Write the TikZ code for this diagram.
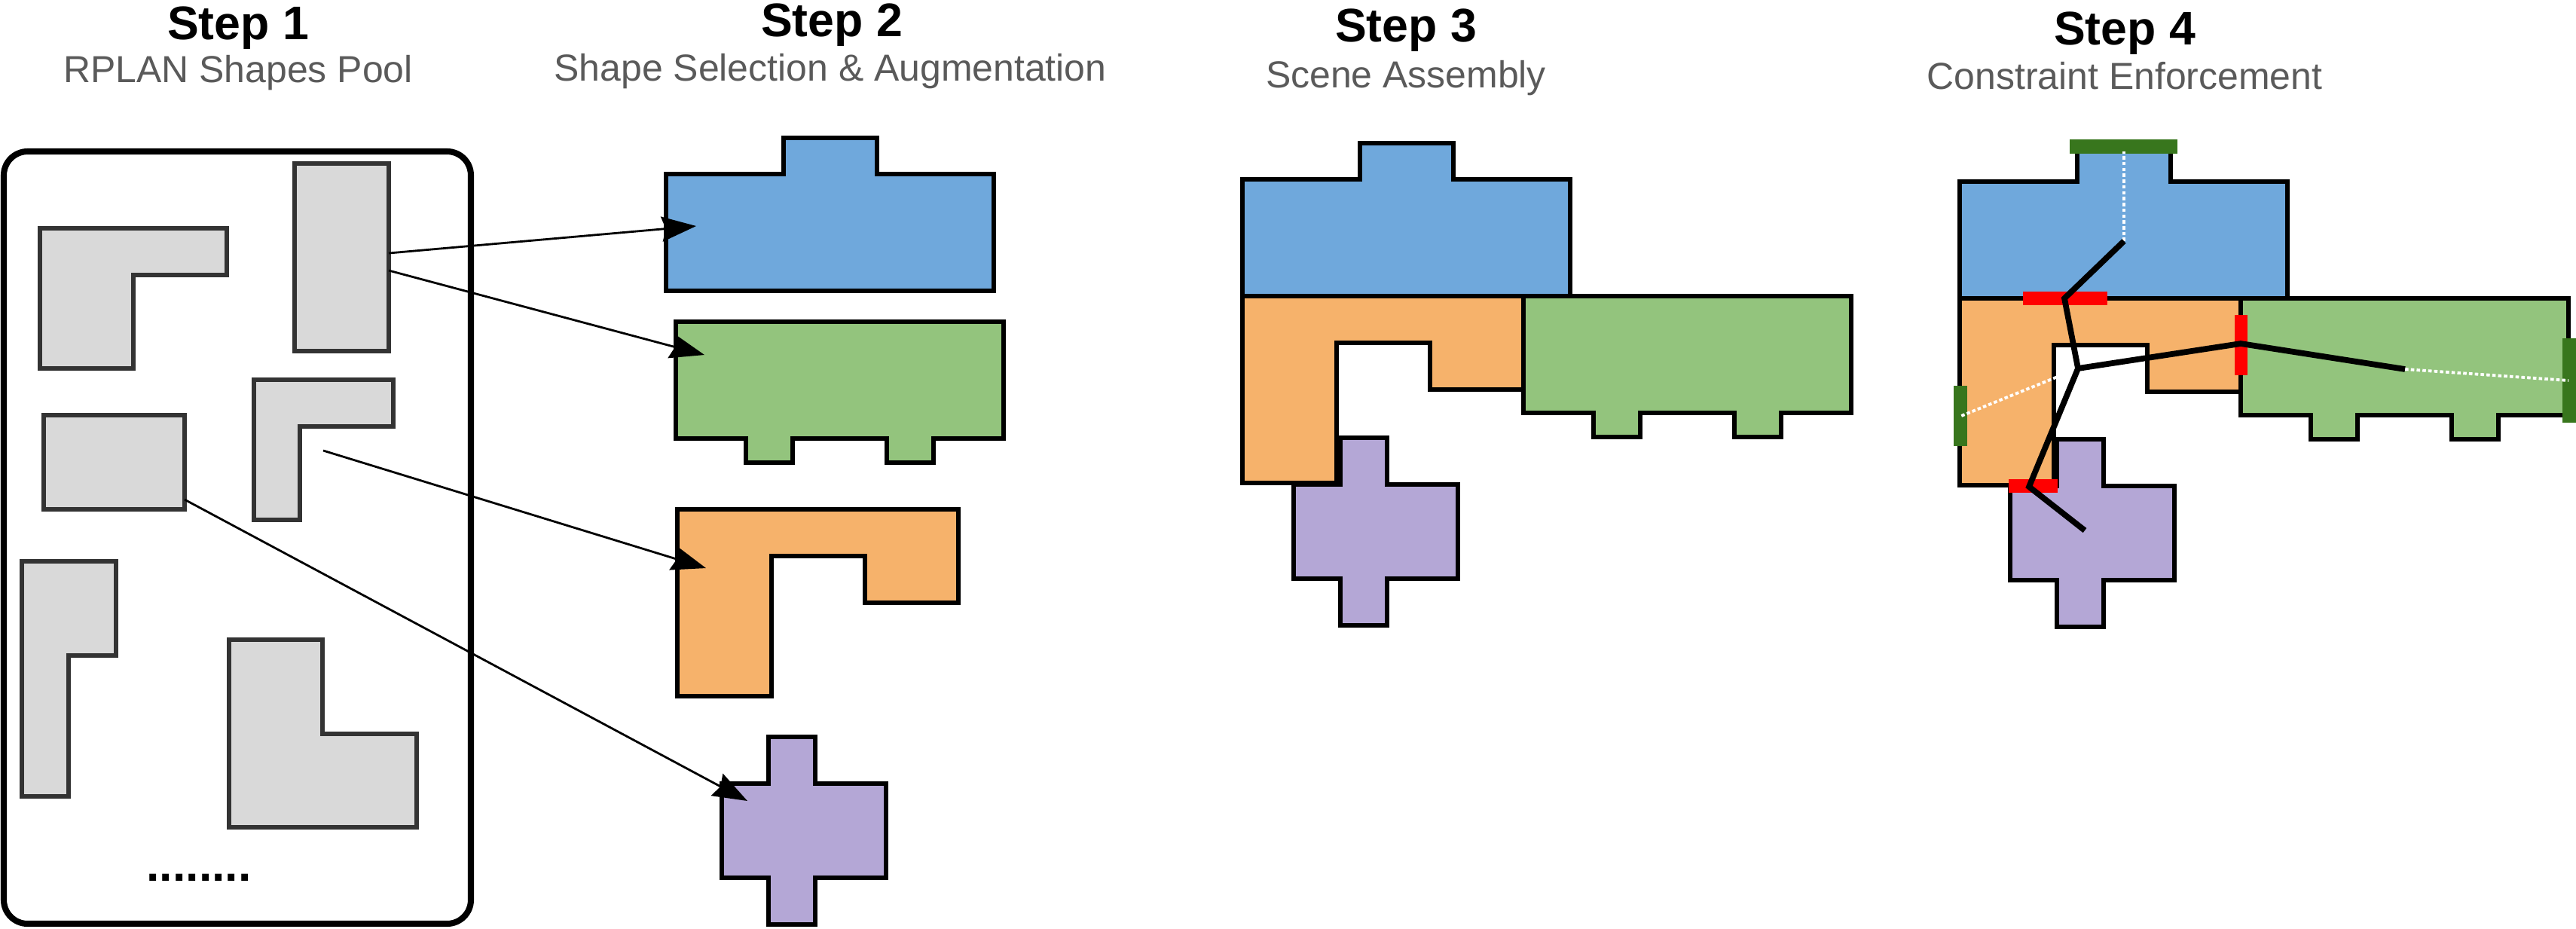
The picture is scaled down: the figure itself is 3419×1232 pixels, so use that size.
\documentclass[tikz,border=0pt]{standalone}
\usepackage{fontspec}
\setmainfont{Liberation Sans}
\usetikzlibrary{arrows.meta,positioning}
\definecolor{cBlue}{HTML}{6FA8DC}
\definecolor{cGreen}{HTML}{93C47D}
\definecolor{cOrange}{HTML}{F6B26B}
\definecolor{cPurple}{HTML}{B4A7D6}
\definecolor{cGray}{HTML}{D9D9D9}
\definecolor{cGrayLine}{HTML}{333333}
\definecolor{cExt}{HTML}{38761D}
\definecolor{cSub}{HTML}{5A5A5A}
\tikzset{
  sStep/.style={font=\bfseries\fontsize{17.8}{20}\selectfont, inner sep=0pt, anchor=base},
  sSub/.style={font=\fontsize{14.2}{16}\selectfont, text=cSub, inner sep=0pt, anchor=base},
  sPool/.style={draw=black, line width=2.3pt, rounded corners=9pt},
  sGray/.style={draw=cGrayLine, fill=cGray, line width=1.55pt},
  sRoom/.style={draw=black, line width=1.55pt},
  sBlue/.style={sRoom, fill=cBlue},
  sGreen/.style={sRoom, fill=cGreen},
  sOrange/.style={sRoom, fill=cOrange},
  sPurple/.style={sRoom, fill=cPurple},
  sArr/.style={line width=0.8pt, -{Stealth[length=13pt, width=9.4pt, inset=1.5pt]}},
  sEdge/.style={line width=2.2pt},
  sDot/.style={white, line width=1.1pt, dash pattern=on 1.3pt off 0.9pt},
  sDoor/.style={fill=red},
  sExtW/.style={fill=cExt},
}
% room outlines, #1 = top-left corner of the main body (pixels)
\newcommand{\pBlue}[1]{(#1) -- ++(156,0) -- ++(0,-48) -- ++(124,0) -- ++(0,48)
  -- ++(155,0) -- ++(0,155) -- ++(-435,0) -- cycle}
\newcommand{\pGreen}[1]{(#1) -- ++(435,0) -- ++(0,155) -- ++(-93,0) -- ++(0,32)
  -- ++(-62,0) -- ++(0,-32) -- ++(-125,0) -- ++(0,32) -- ++(-62,0) -- ++(0,-32)
  -- ++(-93,0) -- cycle}
\newcommand{\pOrange}[1]{(#1) -- ++(373,0) -- ++(0,124) -- ++(-124,0) -- ++(0,-62)
  -- ++(-124,0) -- ++(0,186) -- ++(-125,0) -- cycle}
\newcommand{\pPurple}[1]{(#1) -- ++(62,0) -- ++(0,-62) -- ++(62,0) -- ++(0,62)
  -- ++(94,0) -- ++(0,125) -- ++(-94,0) -- ++(0,62) -- ++(-62,0) -- ++(0,-62)
  -- ++(-62,0) -- cycle}

\begin{document}
\begin{tikzpicture}[x=0.01cm, y=-0.01cm]
  \useasboundingbox (0,0) rectangle (3419,1232);

  % titles
  \node[sStep] (t1) at (316,52) {Step 1};
  \node[sSub]  (s1) at (316,109) {RPLAN Shapes Pool};
  \node[sStep] (t2) at (1104,48) {Step 2};
  \node[sSub]  (s2) at (1102,107) {Shape Selection \& Augmentation};
  \node[sStep] (t3) at (1866,55) {Step 3};
  \node[sSub]  (s3) at (1866,116) {Scene Assembly};
  \node[sStep] (t4) at (2820,59) {Step 4};
  \node[sSub]  (s4) at (2820,118) {Constraint Enforcement};

  % step 1: pool of shapes
  \draw[sPool] (5,201) rectangle (625,1226);
  \draw[sGray] (53,303) -- (301,303) -- (301,365) -- (177,365) -- (177,489) -- (53,489) -- cycle;
  \draw[sGray] (391,217) rectangle (516,466);
  \draw[sGray] (58,551) rectangle (245,676);
  \draw[sGray] (337,504) -- (522,504) -- (522,566) -- (398,566) -- (398,690) -- (337,690) -- cycle;
  \draw[sGray] (29,745) -- (154,745) -- (154,870) -- (91,870) -- (91,1057) -- (29,1057) -- cycle;
  \draw[sGray] (304,849) -- (428,849) -- (428,974) -- (553,974) -- (553,1098) -- (304,1098) -- cycle;
  \node[sStep] (more) at (264,1169) {........};

  % step 2: selected shapes
  \draw[sBlue] \pBlue{884,231};
  \draw[sGreen] \pGreen{897,427};
  \draw[sOrange] \pOrange{899,676};
  \draw[sPurple] \pPurple{958,1040};

  \coordinate (p1) at (516,336);
  \coordinate (p2) at (516,359);
  \coordinate (p3) at (429,598);
  \coordinate (p4) at (245,663);
  \coordinate (blue2) at (924,300);
  \coordinate (green2) at (935,471);
  \coordinate (orange2) at (937,754);
  \coordinate (purple2) at (992,1063);
  \draw[sArr] (p1) -- (blue2);
  \draw[sArr] (p2) -- (green2);
  \draw[sArr] (p3) -- (orange2);
  \draw[sArr] (p4) -- (purple2);

  % step 3: assembled scene
  \draw[sBlue] \pBlue{1649,238};
  \draw[sOrange] \pOrange{1649,393};
  \draw[sGreen] \pGreen{2022,393};
  \draw[sPurple] \pPurple{1717,643};

  % step 4: scene with constraints
  \draw[sBlue] \pBlue{2601,241};
  \draw[sOrange] \pOrange{2601,396};
  \draw[sGreen] \pGreen{2974,396};
  \draw[sPurple] \pPurple{2668,645};

  \fill[sExtW] (2747,185) rectangle (2890,204);
  \fill[sExtW] (2593,512) rectangle (2611,592);
  \fill[sExtW] (3401,449) rectangle (3419,561);
  \fill[sDoor] (2685,387) rectangle (2797,405);
  \fill[sDoor] (2966,418) rectangle (2983,498);
  \fill[sDoor] (2666,636) rectangle (2731,654);

  \coordinate (bc) at (2819,320);
  \coordinate (oc) at (2758,489);
  \coordinate (gc) at (3192,490);
  \coordinate (pc) at (2767,704);
  \coordinate (dbo) at (2740,396);
  \coordinate (dog) at (2974,456);
  \coordinate (dop) at (2693,646);
  \coordinate (eb) at (2819,201);
  \coordinate (eo) at (2603,552);
  \coordinate (eg) at (3409,505);
  \draw[sDot] (bc) -- (eb);
  \draw[sDot] (oc) -- (eo);
  \draw[sDot] (gc) -- (eg);
  \draw[sEdge] (bc) -- (dbo) -- (oc) -- (dog) -- (gc);
  \draw[sEdge] (oc) -- (dop) -- (pc);
\end{tikzpicture}
\end{document}
